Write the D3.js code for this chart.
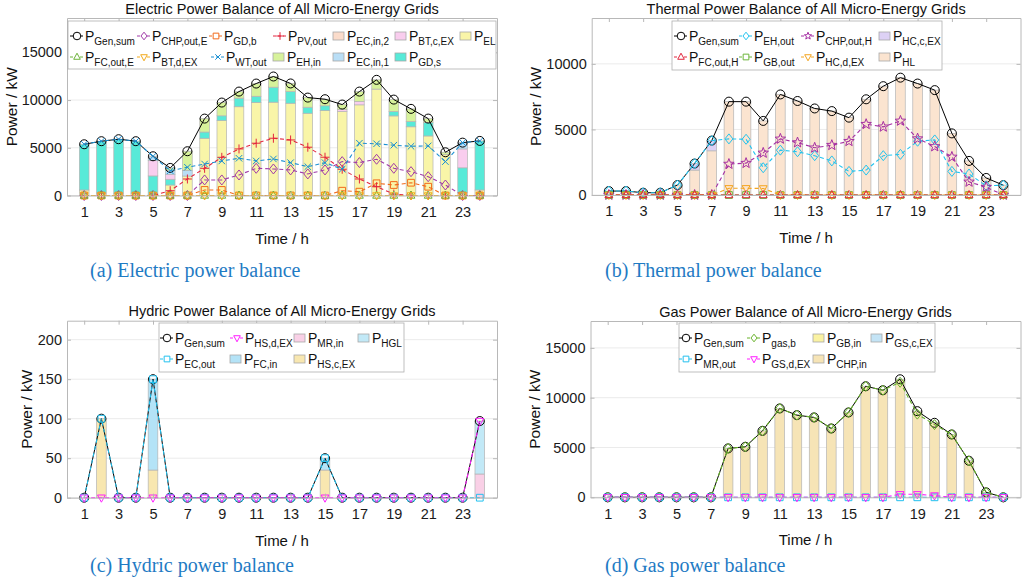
<!DOCTYPE html>
<html>
<head>
<meta charset="utf-8">
<script src="https://cdn.jsdelivr.net/npm/d3@7"></script>
<style>
  body { margin: 0; background: #fff; }
  text { font-family: "Liberation Sans", Arial, sans-serif; }
</style>
</head>
<body>
<svg id="fig" width="1024" height="585"></svg>
<script>
// ---- data ----
const hours = [1,2,3,4,5,6,7,8,9,10,11,12,13,14,15,16,17,18,19,20,21,22,23,24];
const hourTicks = [1,3,5,7,9,11,13,15,17,19,21,23];

// (a) electric, kW
const eGenSum  = [5370,5690,5900,5690,4110,2890,4640,8060,9740,10890,11730,12470,11740,10260,10090,9530,10890,12120,10050,9080,8060,4530,5540,5720];
const eChpOut  = [0,0,0,0,0,0,0,1630,1630,2150,2850,2780,2680,2260,2680,3550,3450,3800,2850,2500,1970,1100,0,0];
const eGdBuy   = [0,0,0,0,0,0,0,580,580,0,0,0,0,0,0,500,400,1280,1100,1340,920,0,0,0];
const ePvOut   = [0,0,0,0,0,500,1730,2850,4000,4880,5480,6000,5820,5060,4010,2750,1730,920,150,0,0,0,0,0];
const eFcOut   = [0,0,0,0,0,0,0,0,0,0,0,0,0,0,0,0,0,0,0,0,0,0,0,0];
const eBtDis   = [0,0,0,0,0,0,0,0,0,0,0,0,0,0,0,0,0,0,0,0,0,0,0,0];
const eWtOut   = [5370,5690,5900,5690,4110,2600,2960,3300,3620,3900,3620,3830,3440,3020,3440,2750,5480,5420,5270,5160,5200,3550,5540,5720];
const eLoad    = [580,250,200,250,100,1100,2040,6000,7850,9300,9750,9780,9670,8620,8900,8800,9500,11150,8340,7200,6240,4300,300,580];
const eGdSell  = [4790,5440,5700,5440,1950,600,0,650,500,900,650,1570,1220,630,500,0,0,0,460,550,1400,0,2600,5140];
const eBtChg   = [0,0,0,0,1600,500,0,0,0,0,0,0,0,0,0,200,350,0,0,0,0,0,1980,0];
const eEcIn1   = [0,0,0,0,460,400,600,0,0,0,0,0,0,0,0,0,0,0,0,0,0,0,660,0];
const eEcIn2   = [0,0,0,0,0,0,0,0,0,0,0,0,0,0,0,0,0,0,0,0,0,0,0,0];
const eEhIn    = [0,0,0,0,0,290,2000,1410,1390,690,1330,1120,850,1010,690,530,1040,970,1250,1330,420,230,0,0];

// (b) thermal, kW
const hGenSum  = [300,300,175,175,760,2400,4150,7120,7120,5650,7670,7170,6600,6400,5900,7300,8300,8950,8500,8000,4700,2600,1300,750];
const hEhOut   = [300,300,175,175,760,2400,4150,4280,4250,2080,3420,3300,3000,2600,1800,1900,3000,3100,4100,4200,1800,1600,700,750];
const hChpOut  = [0,0,0,0,0,0,0,2360,2430,3210,4280,4000,3600,3800,4100,5400,5200,5650,4300,3700,2900,1000,600,0];
const hFcOut   = [0,0,0,0,0,0,0,0,0,0,0,0,0,0,0,0,0,0,0,0,0,0,0,0];
const hGbOut   = [0,0,0,0,0,0,0,0,0,0,0,0,0,0,0,0,0,0,0,0,0,0,0,0];
const hHcDis   = [0,0,0,0,0,0,0,510,510,500,0,0,0,0,0,0,0,0,0,0,0,0,0,0];
const hLoad    = [300,300,175,175,760,1900,3370,7120,7120,5650,7670,7170,6600,6400,5900,7300,8300,8950,8500,8000,4700,2600,1300,750];
const hHcChg   = [0,0,0,0,0,500,780,0,0,0,0,0,0,0,0,0,0,0,0,0,0,0,0,0];

// (c) hydric, kW
const yGenSum  = [0,100,0,0,150,0,0,0,0,0,0,0,0,0,50,0,0,0,0,0,0,0,0,97];
const yHsDis   = [0,0,0,0,0,0,0,0,0,0,0,0,0,0,0,0,0,0,0,0,0,0,0,97];
const yEcOut   = [0,100,0,0,150,0,0,0,0,0,0,0,0,0,50,0,0,0,0,0,0,0,0,0];
const yMrIn    = [0,0,0,0,0,0,0,0,0,0,0,0,0,0,0,0,0,0,0,0,0,0,0,30];
const yHsChg   = [0,100,0,0,35,0,0,0,0,0,0,0,0,0,35,0,0,0,0,0,0,0,0,0];
const yFcIn    = [0,0,0,0,115,0,0,0,0,0,0,0,0,0,15,0,0,0,0,0,0,0,0,0];
const yHgl     = [0,0,0,0,0,0,0,0,0,0,0,0,0,0,0,0,0,0,0,0,0,0,0,67];

// (d) gas, kW
const gGenSum  = [0,0,0,0,0,0,0,4910,5070,6670,8920,8250,8020,6910,8520,11150,10750,11850,8650,7480,6310,3670,500,0];
const gGasBuy  = [0,0,0,0,0,0,0,4910,5070,6670,8920,8250,8020,6910,8520,11150,10750,11550,8350,7300,6310,3670,500,0];
const gMrOut   = [0,0,0,0,0,0,0,0,0,0,0,0,0,0,0,0,0,0,0,0,0,0,0,0];
const gGsDis   = [0,0,0,0,0,0,0,0,0,0,0,0,0,0,0,0,0,300,300,180,0,0,0,0];
const gChpIn   = [0,0,0,0,0,0,0,4910,5070,6670,8920,8250,8020,6910,8520,11150,10750,11850,8650,7480,6310,3670,0,0];
const gGbIn    = [0,0,0,0,0,0,0,0,0,0,0,0,0,0,0,0,0,0,0,0,0,0,500,0];
const gGsChg   = [0,0,0,0,0,0,0,0,0,0,0,0,0,0,0,0,0,0,0,0,0,0,0,0];

// ---- drawing helpers ----
const svg = d3.select('#fig');
svg.append('rect').attr('width', 1024).attr('height', 585).attr('fill', '#fff');

function markerPath(type, s) {
  switch (type) {
    case 'circle': return `M${-s},0A${s},${s} 0 1,0 ${s},0A${s},${s} 0 1,0 ${-s},0Z`;
    case 'diamond': return `M0,${-s}L${s*0.8},0L0,${s}L${-s*0.8},0Z`;
    case 'square': { const h = s * 0.75; return `M${-h},${-h}H${h}V${h}H${-h}Z`; }
    case 'plus': return `M${-s},0H${s}M0,${-s}V${s}`;
    case 'x': { const h = s * 0.72; return `M${-h},${-h}L${h},${h}M${-h},${h}L${h},${-h}`; }
    case 'tri': return `M0,${-s}L${s*0.87},${s*0.6}L${-s*0.87},${s*0.6}Z`;
    case 'tridown': return `M0,${s}L${s*0.87},${-s*0.6}L${-s*0.87},${-s*0.6}Z`;
    case 'star': {
      let p = '';
      for (let k = 0; k < 10; k++) {
        const r = k % 2 ? s * 0.42 : s;
        const a = -Math.PI / 2 + k * Math.PI / 5;
        p += (k ? 'L' : 'M') + (r * Math.cos(a)).toFixed(2) + ',' + (r * Math.sin(a)).toFixed(2);
      }
      return p + 'Z';
    }
  }
  return '';
}

function drawPanel(p) {
  const x = d3.scaleLinear().domain([0, 25]).range([p.left, p.right]);
  const y = d3.scaleLinear().domain([0, p.ymax]).range([p.bottom, p.top]);
  const g = svg.append('g');
  const bw = (x(1) - x(0)) * 0.56;

  // grid
  g.append('g').selectAll('line').data(p.yTicks).join('line')
    .attr('x1', p.left).attr('x2', p.right)
    .attr('y1', d => y(d)).attr('y2', d => y(d))
    .attr('stroke', '#ebebeb');

  // stacked bars
  const rows = hours.map((h, i) => {
    const r = { hour: h };
    p.bars.forEach(b => r[b.key] = b.values[i]);
    return r;
  });
  const stacked = d3.stack().keys(p.bars.map(b => b.key))(rows);
  stacked.forEach((layer, li) => {
    g.append('g').selectAll('rect')
      .data(layer.filter(d => d[1] - d[0] > 0))
      .join('rect')
      .attr('x', d => x(d.data.hour) - bw / 2)
      .attr('width', bw)
      .attr('y', d => y(d[1]))
      .attr('height', d => y(d[0]) - y(d[1]))
      .attr('fill', p.bars[li].color)
      .attr('stroke', '#b4b4b4')
      .attr('stroke-width', 0.7);
  });

  // lines + markers
  const line = d3.line().x((d, i) => x(hours[i])).y(d => y(d));
  p.lines.forEach(s => {
    g.append('path').datum(s.values)
      .attr('d', line)
      .attr('fill', 'none')
      .attr('stroke', s.color)
      .attr('stroke-width', s.dash ? 1.1 : 1)
      .attr('stroke-dasharray', s.dash ? '4,3' : null);
    g.append('g').selectAll('path').data(s.values).join('path')
      .attr('transform', (d, i) => `translate(${x(hours[i])},${y(d)})`)
      .attr('d', markerPath(s.marker, s.size || 4.5))
      .attr('fill', 'none')
      .attr('stroke', s.color)
      .attr('stroke-width', 1);
  });

  // axes (box with inward ticks)
  const axes = [
    g.append('g').attr('transform', `translate(0,${p.bottom})`)
      .call(d3.axisBottom(x).tickValues(hourTicks).tickSize(-4).tickSizeOuter(0).tickPadding(11)),
    g.append('g').attr('transform', `translate(0,${p.top})`)
      .call(d3.axisTop(x).tickValues(hourTicks).tickSize(-4).tickSizeOuter(0).tickFormat('')),
    g.append('g').attr('transform', `translate(${p.left},0)`)
      .call(d3.axisLeft(y).tickValues(p.yTicks).tickFormat(d3.format('d'))
        .tickSize(-4).tickSizeOuter(0).tickPadding(5)),
    g.append('g').attr('transform', `translate(${p.right},0)`)
      .call(d3.axisRight(y).tickValues(p.yTicks).tickSize(-4).tickSizeOuter(0).tickFormat(''))
  ];
  axes.forEach(a => {
    a.select('.domain').attr('stroke', '#b8b8b8');
    a.selectAll('.tick line').attr('stroke', '#b8b8b8');
    a.selectAll('.tick text').attr('fill', '#1a1a1a').style('font-size', '14.5px')
      .style('font-family', '"Liberation Sans", Arial, sans-serif');
  });

  // labels
  const cx = (p.left + p.right) / 2;
  g.append('text').attr('x', cx).attr('y', p.top - 4.5)
    .attr('text-anchor', 'middle').style('font-size', '14.5px').attr('fill', '#111')
    .text(p.title);
  g.append('text').attr('x', cx).attr('y', p.bottom + 48)
    .attr('text-anchor', 'middle').style('font-size', '15px').attr('fill', '#111')
    .text('Time / h');
  g.append('text')
    .attr('transform', `translate(${p.yLabelX},${(p.top + p.bottom) / 2}) rotate(-90)`)
    .attr('text-anchor', 'middle').style('font-size', '15.5px').attr('fill', '#111')
    .text('Power / kW');

  // legend
  const L = p.legend;
  const lg = g.append('g');
  lg.append('rect').attr('x', L.x0).attr('y', L.y0)
    .attr('width', L.x1 - L.x0).attr('height', L.y1 - L.y0)
    .attr('fill', '#fff').attr('stroke', '#b0b0b0').attr('stroke-width', 0.8);
  L.items.forEach((it, idx) => {
    const row = idx < L.perRow ? 0 : 1;
    const col = idx < L.perRow ? idx : idx - L.perRow;
    const ix = L.cols[row][col];
    const base = L.y0 + (row === 0 ? 20 : 41);
    const cy = base - 5;
    let tx;
    if (it.kind === 'line') {
      lg.append('line').attr('x1', ix).attr('x2', ix + 13).attr('y1', cy).attr('y2', cy)
        .attr('stroke', it.color).attr('stroke-dasharray', it.dash ? '3,2' : null);
      lg.append('path').attr('transform', `translate(${ix + 7},${cy})`)
        .attr('d', markerPath(it.marker, 3.8)).attr('fill', '#fff').attr('stroke', it.color);
      tx = ix + 15;
    } else {
      lg.append('rect').attr('x', ix).attr('y', cy - 4).attr('width', 11).attr('height', 8)
        .attr('fill', it.color).attr('stroke', '#a8a8a8').attr('stroke-width', 0.8);
      tx = ix + 14;
    }
    const t = lg.append('text').attr('x', tx).attr('y', base).attr('fill', '#111').style('font-size', '14px');
    t.append('tspan').text('P');
    t.append('tspan').attr('dy', 4).style('font-size', '10px').text(it.sub);
  });
}

// ---- panel definitions ----
const aLines = [
  { sub: 'Gen,sum', values: eGenSum, color: '#000000', marker: 'circle', dash: false },
  { sub: 'CHP,out,E', values: eChpOut, color: '#a03aa8', marker: 'diamond', dash: true, size: 5 },
  { sub: 'GD,b', values: eGdBuy, color: '#f26a1b', marker: 'square', dash: true },
  { sub: 'PV,out', values: ePvOut, color: '#e3263e', marker: 'plus', dash: true },
  { sub: 'WT,out', values: eWtOut, color: '#1a8fd2', marker: 'x', dash: true },
  { sub: 'FC,out,E', values: eFcOut, color: '#6db33a', marker: 'tri', dash: true },
  { sub: 'BT,d,EX', values: eBtDis, color: '#f2aa1c', marker: 'tridown', dash: true }
];
const aBars = [
  { key: 'EL', values: eLoad, color: '#f9f5a8' },
  { key: 'GDs', values: eGdSell, color: '#58ead8' },
  { key: 'BTc', values: eBtChg, color: '#f9cdee' },
  { key: 'EC1', values: eEcIn1, color: '#b9def6' },
  { key: 'EC2', values: eEcIn2, color: '#fbdccb' },
  { key: 'EH', values: eEhIn, color: '#d7f29b' }
];
const lineItem = (s) => ({ kind: 'line', sub: s.sub, color: s.color, marker: s.marker, dash: s.dash });
const barItem = (sub, b) => ({ kind: 'bar', sub: sub, color: b.color });

drawPanel({
  left: 67, right: 497, top: 18, bottom: 195.5, ymax: 18600,
  yTicks: [0, 5000, 10000, 15000], yLabelX: 17,
  title: 'Electric Power Balance of All Micro-Energy Grids',
  bars: aBars, lines: aLines,
  legend: {
    x0: 68, x1: 496, y0: 21, y1: 69, perRow: 7,
    cols: [[70, 137, 209, 273, 333, 395, 460], [70, 137, 211, 273, 333, 395]],
    items: [
      lineItem(aLines[0]), lineItem(aLines[1]), lineItem(aLines[2]), lineItem(aLines[3]),
      barItem('EC,in,2', aBars[4]), barItem('BT,c,EX', aBars[2]), barItem('EL', aBars[0]),
      lineItem(aLines[5]), lineItem(aLines[6]), lineItem(aLines[4]),
      barItem('EH,in', aBars[5]), barItem('EC,in,1', aBars[3]), barItem('GD,s', aBars[1])
    ]
  }
});

const bLines = [
  { sub: 'Gen,sum', values: hGenSum, color: '#000000', marker: 'circle', dash: false },
  { sub: 'EH,out', values: hEhOut, color: '#22c3ef', marker: 'diamond', dash: true, size: 5 },
  { sub: 'CHP,out,H', values: hChpOut, color: '#a52fa3', marker: 'star', dash: true, size: 5.5 },
  { sub: 'GB,out', values: hGbOut, color: '#6cb53a', marker: 'square', dash: true },
  { sub: 'HC,d,EX', values: hHcDis, color: '#f4a51f', marker: 'tridown', dash: true },
  { sub: 'FC,out,H', values: hFcOut, color: '#e2263c', marker: 'tri', dash: true }
];
const bBars = [
  { key: 'HL', values: hLoad, color: '#fbe4d0' },
  { key: 'HCc', values: hHcChg, color: '#ddd1f5' }
];
drawPanel({
  left: 591.7, right: 1020.5, top: 18, bottom: 195, ymax: 13500,
  yTicks: [0, 5000, 10000], yLabelX: 541,
  title: 'Thermal Power Balance of All Micro-Energy Grids',
  bars: bBars, lines: bLines,
  legend: {
    x0: 672, x1: 942, y0: 21, y1: 70, perRow: 4,
    cols: [[674, 739, 801, 879], [674, 739, 801, 879]],
    items: [
      lineItem(bLines[0]), lineItem(bLines[1]), lineItem(bLines[2]), barItem('HC,c,EX', bBars[1]),
      lineItem(bLines[5]), lineItem(bLines[3]), lineItem(bLines[4]), barItem('HL', bBars[0])
    ]
  }
});

const cLines = [
  { sub: 'Gen,sum', values: yGenSum, color: '#000000', marker: 'circle', dash: false },
  { sub: 'EC,out', values: yEcOut, color: '#22c1ef', marker: 'square', dash: true },
  { sub: 'HS,d,EX', values: yHsDis, color: '#ff1eff', marker: 'tridown', dash: true }
];
const cBars = [
  { key: 'MR', values: yMrIn, color: '#f9d0e6' },
  { key: 'HSc', values: yHsChg, color: '#f8e7b0' },
  { key: 'FC', values: yFcIn, color: '#b4e3f7' },
  { key: 'HGL', values: yHgl, color: '#c2e9f7' }
];
drawPanel({
  left: 67, right: 497, top: 320.7, bottom: 497.7, ymax: 224,
  yTicks: [0, 50, 100, 150, 200], yLabelX: 32,
  title: 'Hydric Power Balance of All Micro-Energy Grids',
  bars: cBars, lines: cLines,
  legend: {
    x0: 159, x1: 404, y0: 323, y1: 372, perRow: 4,
    cols: [[160, 230, 294, 358], [160, 230, 294]],
    items: [
      lineItem(cLines[0]), lineItem(cLines[2]), barItem('MR,in', cBars[0]), barItem('HGL', cBars[3]),
      lineItem(cLines[1]), barItem('FC,in', cBars[2]), barItem('HS,c,EX', cBars[1])
    ]
  }
});

const dLines = [
  { sub: 'Gen,sum', values: gGenSum, color: '#000000', marker: 'circle', dash: false },
  { sub: 'gas,b', values: gGasBuy, color: '#68b22a', marker: 'diamond', dash: true, size: 5 },
  { sub: 'MR,out', values: gMrOut, color: '#22bfee', marker: 'square', dash: true },
  { sub: 'GS,d,EX', values: gGsDis, color: '#ff1eff', marker: 'tridown', dash: true }
];
const dBars = [
  { key: 'CHP', values: gChpIn, color: '#f6e4b6' },
  { key: 'GB', values: gGbIn, color: '#faf2a2' },
  { key: 'GSc', values: gGsChg, color: '#c4e4f6' }
];
drawPanel({
  left: 590.5, right: 1020.5, top: 321, bottom: 497.3, ymax: 17700,
  yTicks: [0, 5000, 10000, 15000], yLabelX: 540,
  title: 'Gas Power Balance of All Micro-Energy Grids',
  bars: dBars, lines: dLines,
  legend: {
    x0: 679, x1: 935, y0: 323, y1: 372, perRow: 4,
    cols: [[679, 747, 813, 871], [679, 747, 813]],
    items: [
      lineItem(dLines[0]), lineItem(dLines[1]), barItem('GB,in', dBars[1]), barItem('GS,c,EX', dBars[2]),
      lineItem(dLines[2]), lineItem(dLines[3]), barItem('CHP,in', dBars[0])
    ]
  }
});

// captions
const captions = [
  { text: '(a) Electric power balance', x: 90, y: 277 },
  { text: '(b) Thermal power balance', x: 605, y: 277 },
  { text: '(c) Hydric power balance', x: 90, y: 572 },
  { text: '(d) Gas power balance', x: 605, y: 572 }
];
svg.append('g').selectAll('text').data(captions).join('text')
  .attr('x', d => d.x).attr('y', d => d.y)
  .attr('fill', '#1f7bc4')
  .style('font-family', '"Liberation Serif", "Times New Roman", serif')
  .style('font-size', '20px')
  .text(d => d.text);
</script>
</body>
</html>
